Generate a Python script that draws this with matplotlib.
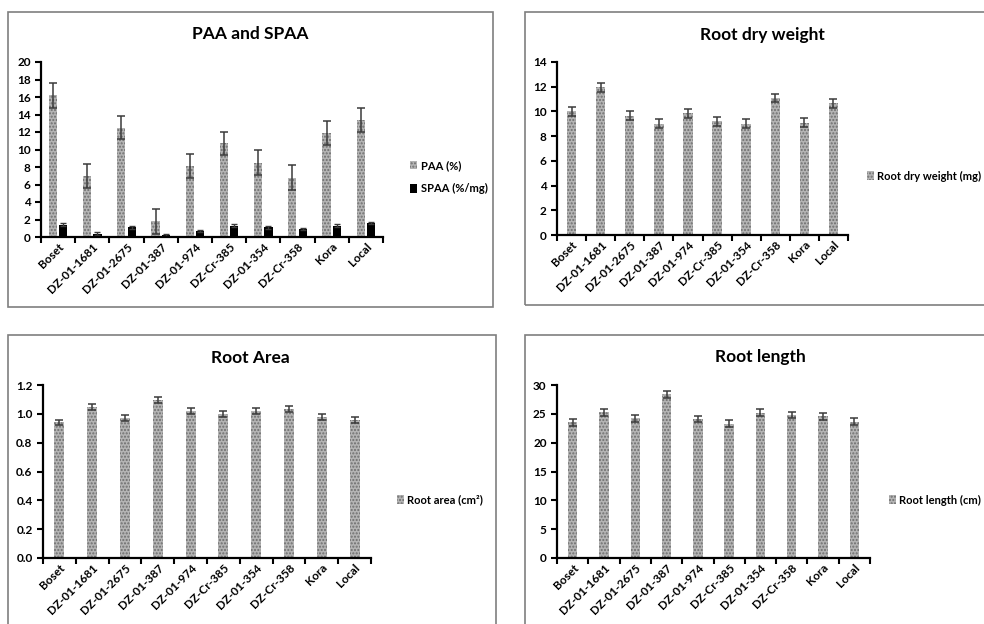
import matplotlib
matplotlib.use("Agg")
import matplotlib.pyplot as plt
import numpy as np
from matplotlib.patches import Rectangle

plt.rcParams['font.family'] = ['Lato', 'DejaVu Sans']
plt.rcParams['font.weight'] = 'bold'
plt.rcParams['hatch.linewidth'] = 1.0

categories = ["Boset", "DZ-01-1681", "DZ-01-2675", "DZ-01-387", "DZ-01-974",
              "DZ-Cr-385", "DZ-01-354", "DZ-Cr-358", "Kora", "Local"]

paa = [16.2, 7.0, 12.5, 1.8, 8.1, 10.7, 8.5, 6.8, 11.9, 13.4]
paa_err = [1.4, 1.4, 1.3, 1.4, 1.4, 1.3, 1.4, 1.4, 1.4, 1.4]
spaa = [1.4, 0.4, 1.1, 0.2, 0.7, 1.3, 1.1, 0.9, 1.3, 1.6]
spaa_err = [0.15, 0.12, 0.15, 0.12, 0.15, 0.15, 0.15, 0.15, 0.15, 0.15]

rdw = [10.0, 11.95, 9.65, 9.0, 9.85, 9.2, 9.0, 11.1, 9.1, 10.65]
rdw_err = [0.35, 0.35, 0.35, 0.35, 0.35, 0.35, 0.35, 0.35, 0.35, 0.35]

rarea = [0.94, 1.045, 0.97, 1.095, 1.02, 1.0, 1.02, 1.035, 0.98, 0.955]
rarea_err = [0.02, 0.02, 0.02, 0.02, 0.02, 0.02, 0.02, 0.02, 0.02, 0.02]

rlen = [23.5, 25.3, 24.2, 28.4, 24.1, 23.3, 25.2, 24.8, 24.6, 23.6]
rlen_err = [0.6, 0.6, 0.6, 0.6, 0.6, 0.6, 0.6, 0.6, 0.6, 0.6]

W, H = 984, 624
fig = plt.figure(figsize=(W / 100, H / 100), dpi=100)

def px_rect(x0, y0, x1, y1):
    return [x0 / W, 1 - y1 / H, (x1 - x0) / W, (y1 - y0) / H]

# panel borders
for (x0, y0, x1, y1) in [(8, 12, 493, 307), (525, 12, 990, 305),
                         (8, 335, 496, 630), (525, 335, 990, 630)]:
    fig.patches.append(Rectangle((x0 / W, 1 - y1 / H), (x1 - x0) / W, (y1 - y0) / H,
                                 transform=fig.transFigure, fill=False,
                                 edgecolor='#7f7f7f', linewidth=1.2))

BAR_FC = '#b4b4b4'
HATCH_EC = '#6e6e6e'
ERR_C = '#3a3a3a'
TICK_FS = 8.5
LEG_FS = 8
LEG_FS_R = 8

def style_axes(ax, ymax, step, fmt):
    x = np.arange(len(categories))
    ax.set_xlim(-0.5, len(categories) - 0.5)
    ax.set_ylim(0, ymax)
    ax.set_yticks(np.arange(0, ymax + step / 2, step))
    ax.yaxis.set_major_formatter(matplotlib.ticker.FormatStrFormatter(fmt))
    ax.set_xticks(np.arange(-0.5, len(categories) + 0.5, 1))
    ax.set_xticklabels([])
    ax.set_xticks(x, minor=True)
    ax.set_xticklabels(categories, minor=True, rotation=45, ha='right',
                       rotation_mode='anchor', fontsize=TICK_FS, fontweight='bold')
    ax.tick_params(axis='x', which='minor', length=0, pad=3)
    ax.tick_params(axis='x', which='major', length=4, width=1.5, direction='out')
    ax.tick_params(axis='y', length=4, width=1.5, direction='out', labelsize=TICK_FS)
    for lab in ax.get_yticklabels():
        lab.set_fontweight('bold')
    for s in ['top', 'right']:
        ax.spines[s].set_visible(False)
    for s in ['left', 'bottom']:
        ax.spines[s].set_linewidth(1.6)
        ax.spines[s].set_color('black')

def gray_bar(ax, x, vals, errs, width, label):
    return ax.bar(x, vals, width, yerr=errs, color=BAR_FC, edgecolor=HATCH_EC,
                  linewidth=0, hatch='.....', label=label,
                  error_kw=dict(ecolor=ERR_C, elinewidth=1.1, capsize=3, capthick=1.1))

x = np.arange(len(categories))

# Panel 1: PAA and SPAA
ax1 = fig.add_axes(px_rect(41, 62, 383, 237))
gray_bar(ax1, x - 0.15, paa, paa_err, 0.24, "PAA (%)")
ax1.bar(x + 0.15, spaa, 0.24, yerr=spaa_err, color='black', label="SPAA (%/mg)",
        error_kw=dict(ecolor=ERR_C, elinewidth=1.0, capsize=2.5, capthick=1.0))
style_axes(ax1, 20, 2, '%d')
ax1.legend(loc='center left', bbox_to_anchor=(400 / W, 1 - 177 / H),
           bbox_transform=fig.transFigure, frameon=False, fontsize=LEG_FS,
           handlelength=0.6, handleheight=0.8, handletextpad=0.4, labelspacing=1.1)
fig.text(250 / W, 1 - 34 / H, "PAA and SPAA", ha='center', va='center',
         fontsize=12.5, fontweight='bold')

# Panel 2: Root dry weight
ax2 = fig.add_axes(px_rect(557, 62, 848, 235))
gray_bar(ax2, x, rdw, rdw_err, 0.32, "Root dry weight (mg)")
style_axes(ax2, 14, 2, '%d')
ax2.legend(loc='center left', bbox_to_anchor=(866 / W, 1 - 176 / H),
           bbox_transform=fig.transFigure, frameon=False, fontsize=LEG_FS_R,
           handlelength=0.6, handleheight=0.8, handletextpad=0.3,
           borderaxespad=0, borderpad=0.1)
fig.text(762 / W, 1 - 35 / H, "Root dry weight", ha='center', va='center',
         fontsize=12.5, fontweight='bold')

# Panel 3: Root Area
ax3 = fig.add_axes(px_rect(43, 385, 371, 558))
gray_bar(ax3, x, rarea, rarea_err, 0.3, "Root area (cm²)")
style_axes(ax3, 1.2, 0.2, '%.1f')
ax3.legend(loc='center left', bbox_to_anchor=(387 / W, 1 - 500 / H),
           bbox_transform=fig.transFigure, frameon=False, fontsize=LEG_FS,
           handlelength=0.6, handleheight=0.8, handletextpad=0.3)
fig.text(250 / W, 1 - 358 / H, "Root Area", ha='center', va='center',
         fontsize=12.5, fontweight='bold')

# Panel 4: Root length
ax4 = fig.add_axes(px_rect(557, 385, 870, 558))
gray_bar(ax4, x, rlen, rlen_err, 0.3, "Root length (cm)")
style_axes(ax4, 30, 5, '%d')
ax4.legend(loc='center left', bbox_to_anchor=(888 / W, 1 - 500 / H),
           bbox_transform=fig.transFigure, frameon=False, fontsize=LEG_FS_R,
           handlelength=0.6, handleheight=0.8, handletextpad=0.3,
           borderaxespad=0, borderpad=0.1)
fig.text(760 / W, 1 - 357 / H, "Root length", ha='center', va='center',
         fontsize=12.5, fontweight='bold')

fig.savefig("out.png", dpi=100)
